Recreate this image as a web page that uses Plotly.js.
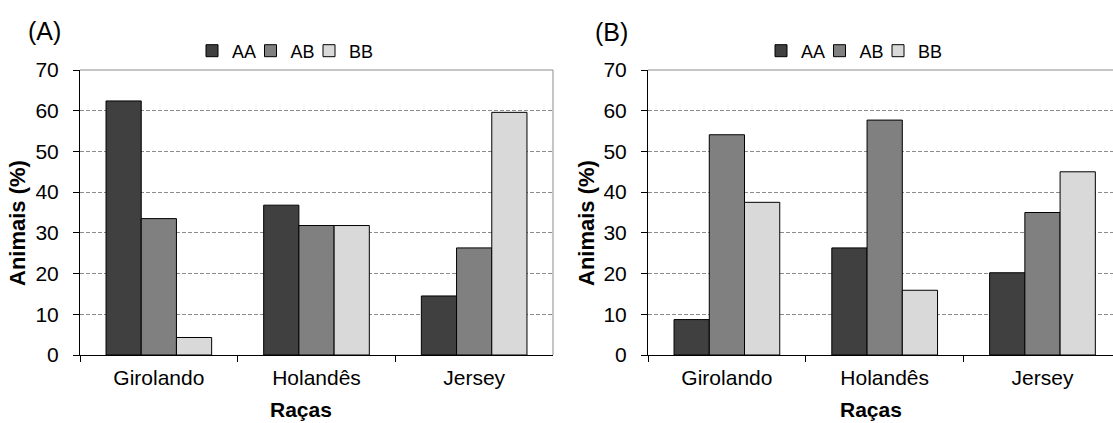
<!DOCTYPE html>
<html>
<head>
<meta charset="utf-8">
<script src="https://cdn.plot.ly/plotly-3.0.1.min.js"></script>
<style>
  html, body { margin: 0; padding: 0; background: #fff; }
  #chart { width: 1113px; height: 423px; }
</style>
</head>
<body>
<div id="chart"></div>
<script>
// ---- Data ----
const categories = ['Girolando', 'Holandês', 'Jersey'];
const seriesNames = ['AA', 'AB', 'BB'];
// Panel (A)
const A_AA = [62.4, 36.8, 14.5];
const A_AB = [33.5, 31.8, 26.3];
const A_BB = [4.3, 31.8, 59.6];
// Panel (B)
const B_AA = [8.7, 26.3, 20.2];
const B_AB = [54.1, 57.7, 35.0];
const B_BB = [37.5, 15.9, 45.0];
const yTickVals = [0, 10, 20, 30, 40, 50, 60, 70];
const panelLabels = ['(A)', '(B)'];
const xTitle = 'Raças';
const yTitle = 'Animais (%)';

// ---- Styles ----
const colors = ['#404040', '#808080', '#d9d9d9'];
const FONT = 'Liberation Sans, Arial, sans-serif';
const W = 1113, H = 423;
const px = v => v / W;
const py = v => 1 - v / H;

function mk(y, i, xa, ya, lg) {
  const t = {
    type: 'bar', x: categories, y: y, name: seriesNames[i],
    xaxis: xa, yaxis: ya, legend: lg,
    marker: { color: colors[i], line: { color: '#000', width: 1 } },
    hoverinfo: 'x+y+name'
  };
  if (i === 2) t.legendwidth = 30;
  return t;
}

const traces = [
  mk(A_AA, 0, 'x', 'y', 'legend'),
  mk(A_AB, 1, 'x', 'y', 'legend'),
  mk(A_BB, 2, 'x', 'y', 'legend'),
  mk(B_AA, 0, 'x2', 'y2', 'legend2'),
  mk(B_AB, 1, 'x2', 'y2', 'legend2'),
  mk(B_BB, 2, 'x2', 'y2', 'legend2')
];

const yDomain = [py(355), py(70)];

function xaxis(domain, range) {
  return {
    type: 'category', domain: domain, range: range,
    tickson: 'boundaries', ticks: 'outside', ticklen: 6, tickcolor: '#000',
    showline: true, linecolor: '#000', linewidth: 1,
    showgrid: false, zeroline: false, fixedrange: true,
    tickfont: { family: FONT, size: 21, color: '#000' },
    ticklabelstandoff: 4
  };
}
function yaxis(anchor) {
  return {
    anchor: anchor, domain: yDomain, range: [0, 70],
    tickvals: yTickVals, ticks: 'outside', ticklen: 6, tickcolor: '#000',
    showline: true, linecolor: '#000', linewidth: 1,
    showgrid: true, gridcolor: '#8c8c8c', gridwidth: 1, griddash: '4px,2px',
    zeroline: false, fixedrange: true,
    tickfont: { family: FONT, size: 21, color: '#000' },
    ticklabelstandoff: 10
  };
}

const legendBase = {
  orientation: 'h', xanchor: 'left', yanchor: 'middle',
  font: { family: FONT, size: 18, color: '#000' },
  bgcolor: 'rgba(0,0,0,0)', itemwidth: 30, traceorder: 'normal',
  entrywidth: 13.5, entrywidthmode: 'pixels',
  itemclick: false, itemdoubleclick: false
};

const layout = {
  width: W, height: H,
  margin: { l: 0, r: 0, t: 0, b: 0 },
  paper_bgcolor: '#fff', plot_bgcolor: '#fff',
  barmode: 'group', bargap: 0.33, bargroupgap: 0,
  showlegend: true,
  xaxis: xaxis([px(80), px(553)], [-0.5, 2.5]),
  yaxis: yaxis('x'),
  xaxis2: Object.assign(xaxis([px(648), 1], [-0.5, 2.447]), { anchor: 'y2' }),
  yaxis2: yaxis('x2'),
  legend: Object.assign({}, legendBase, { x: px(192), y: py(51) }),
  legend2: Object.assign({}, legendBase, { x: px(761), y: py(51) }),
  shapes: [
    { type: 'line', xref: 'x domain', yref: 'y domain', x0: 0, x1: 1, y0: 1, y1: 1, line: { color: '#8c8c8c', width: 1 } },
    { type: 'line', xref: 'x domain', yref: 'y domain', x0: 1, x1: 1, y0: 0, y1: 1, line: { color: '#8c8c8c', width: 1 } },
    { type: 'line', xref: 'x2 domain', yref: 'y2 domain', x0: 0, x1: 1, y0: 1, y1: 1, line: { color: '#8c8c8c', width: 1 } }
  ],
  annotations: [
    { text: panelLabels[0], xref: 'paper', yref: 'paper', x: px(44.5), y: py(31), xanchor: 'center', yanchor: 'middle', showarrow: false, font: { family: FONT, size: 25, color: '#000' } },
    { text: panelLabels[1], xref: 'paper', yref: 'paper', x: px(611), y: py(32), xanchor: 'center', yanchor: 'middle', showarrow: false, font: { family: FONT, size: 25, color: '#000' } },
    { text: '<b>' + xTitle + '</b>', xref: 'paper', yref: 'paper', x: px(301), y: py(409), xanchor: 'center', yanchor: 'middle', showarrow: false, borderpad: 0, font: { family: FONT, size: 21, color: '#000' } },
    { text: '<b>' + xTitle + '</b>', xref: 'paper', yref: 'paper', x: px(871), y: py(409), xanchor: 'center', yanchor: 'middle', showarrow: false, borderpad: 0, font: { family: FONT, size: 21, color: '#000' } },
    { text: '<b>' + yTitle + '</b>', xref: 'paper', yref: 'paper', x: px(17), y: py(223), xanchor: 'center', yanchor: 'middle', textangle: -90, showarrow: false, font: { family: FONT, size: 22, color: '#000' } },
    { text: '<b>' + yTitle + '</b>', xref: 'paper', yref: 'paper', x: px(586), y: py(223), xanchor: 'center', yanchor: 'middle', textangle: -90, showarrow: false, font: { family: FONT, size: 22, color: '#000' } }
  ]
};

Plotly.newPlot('chart', traces, layout, { staticPlot: false, displayModeBar: false, responsive: false });
</script>
</body>
</html>
